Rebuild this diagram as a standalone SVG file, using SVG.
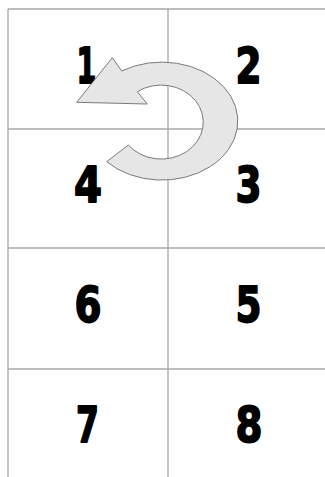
<svg xmlns="http://www.w3.org/2000/svg" width="325" height="477" viewBox="0 0 325 477">
<style>
.grid line{stroke:#a8a8a8;stroke-width:1.3;fill:none}
.num{font-family:"DejaVu Sans","Liberation Sans",sans-serif;font-weight:bold;font-size:49px;fill:#000;stroke:#000;stroke-width:1.8;stroke-linejoin:round;text-anchor:middle}
.arrow{fill:#e6e6e6;stroke:#7a7a7a;stroke-width:1}
</style>
<rect width="325" height="477" fill="#fff"/>
<g id="grid" class="grid">
<line x1="8" y1="9" x2="325" y2="9"/>
<line x1="8" y1="9" x2="8" y2="477"/>
<line x1="168" y1="9" x2="168" y2="477"/>
<line x1="8" y1="129" x2="325" y2="129"/>
<line x1="8" y1="248" x2="325" y2="248"/>
<line x1="8" y1="369" x2="325" y2="369"/>
</g>
<g id="cell1"><text class="num" x="86.5" y="82.5" textLength="20" lengthAdjust="spacingAndGlyphs">1</text></g>
<g id="cell2"><text class="num" x="248.5" y="82.5" textLength="26" lengthAdjust="spacingAndGlyphs">2</text></g>
<g id="cell4"><text class="num" x="88" y="201.5" textLength="28" lengthAdjust="spacingAndGlyphs">4</text></g>
<g id="cell3"><text class="num" x="248.5" y="201.5" textLength="26" lengthAdjust="spacingAndGlyphs">3</text></g>
<g id="cell6"><text class="num" x="88" y="322" textLength="27" lengthAdjust="spacingAndGlyphs">6</text></g>
<g id="cell5"><text class="num" x="248.5" y="321.5" textLength="26" lengthAdjust="spacingAndGlyphs">5</text></g>
<g id="cell7"><text class="num" x="87.5" y="441.5" textLength="23" lengthAdjust="spacingAndGlyphs">7</text></g>
<g id="cell8"><text class="num" x="249" y="442" textLength="27" lengthAdjust="spacingAndGlyphs">8</text></g>
<g id="connectors">
<path class="arrow" d="M76.7,102.3 L112.3,57.7 L121.7,71 A76 59 0 1 1 106.7,161.7 L128.3,145 A42 37 0 1 0 137.3,91.7 L147.3,104 Z"/>
</g>
</svg>
